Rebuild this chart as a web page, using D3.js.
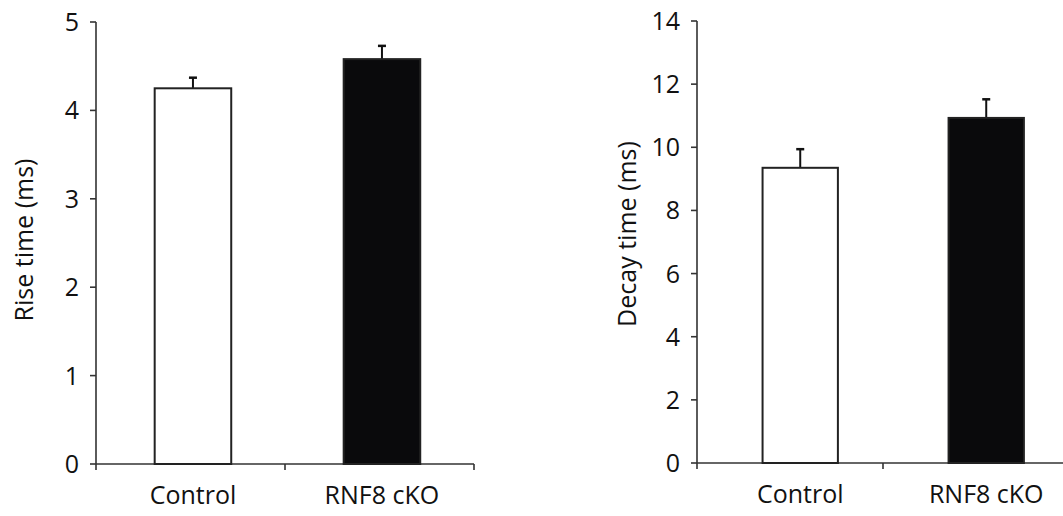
<!DOCTYPE html>
<html lang="en">
<head>
    <meta charset="UTF-8" />
    <title>Rise and decay time</title>
    <style>
        body { margin: 0; background: #fff; }
        svg text { font-family: "Open Sans", "Noto Sans", sans-serif; fill: #111; }
    </style>
</head>
<body>
    <svg id="chart" width="1063" height="516"></svg>
    <script src="https://d3js.org/d3.v7.min.js"></script>
    <script>
        // --- Data ---
        const groups = ["Control", "RNF8 cKO"];
        const barFill = ["#ffffff", "#0a0a0c"];
        const riseMean = [4.25, 4.58];
        const riseErr = [0.12, 0.15];
        const decayMean = [9.35, 10.93];
        const decayErr = [0.59, 0.59];
        const riseTicks = [0, 1, 2, 3, 4, 5];
        const decayTicks = [0, 2, 4, 6, 8, 10, 12, 14];

        const svg = d3.select("#chart");
        const axisColor = "#333";
        const fontSize = 25;

        function panel(opts) {
            const g = svg.append("g");
            const y = d3.scaleLinear().domain([0, opts.max]).range([opts.y0, opts.y1]);
            const x = d3.scaleBand().domain(groups).range([opts.x0, opts.x1]).padding(0);
            const bw = x.bandwidth() * 0.405;
            const cx = d => x(d) + x.bandwidth() * opts.shift;

            // y axis
            g.append("line")
                .attr("x1", opts.x0).attr("x2", opts.x0)
                .attr("y1", y(0)).attr("y2", y(opts.max))
                .attr("stroke", axisColor).attr("stroke-width", 1.6);
            g.selectAll(".yt").data(opts.ticks).enter().append("line")
                .attr("x1", opts.x0 - 6).attr("x2", opts.x0)
                .attr("y1", d => y(d)).attr("y2", d => y(d))
                .attr("stroke", axisColor).attr("stroke-width", 1.6);
            g.selectAll(".yl").data(opts.ticks).enter().append("text")
                .attr("x", opts.x0 - 17).attr("y", d => y(d))
                .attr("dy", "0.36em")
                .attr("text-anchor", "end")
                .attr("font-size", fontSize)
                .text(d => d);

            // x axis with ticks between categories
            g.append("line")
                .attr("x1", opts.x0).attr("x2", opts.x1)
                .attr("y1", y(0)).attr("y2", y(0))
                .attr("stroke", axisColor).attr("stroke-width", 1.6);
            const edges = [opts.x0].concat(groups.map(d => x(d) + x.bandwidth()));
            g.selectAll(".xt").data(edges).enter().append("line")
                .attr("x1", d => d).attr("x2", d => d)
                .attr("y1", y(0)).attr("y2", y(0) + 6)
                .attr("stroke", axisColor).attr("stroke-width", 1.6);
            g.selectAll(".xl").data(groups).enter().append("text")
                .attr("x", d => cx(d)).attr("y", y(0) + 40)
                .attr("text-anchor", "middle")
                .attr("font-size", fontSize)
                .text(d => d);

            // error bars
            g.selectAll(".eb").data(groups).enter().append("line")
                .attr("x1", d => cx(d)).attr("x2", d => cx(d))
                .attr("y1", (d, i) => y(opts.mean[i]))
                .attr("y2", (d, i) => y(opts.mean[i] + opts.err[i]))
                .attr("stroke", "#111").attr("stroke-width", 2);
            g.selectAll(".ec").data(groups).enter().append("line")
                .attr("x1", d => cx(d) - 4).attr("x2", d => cx(d) + 4)
                .attr("y1", (d, i) => y(opts.mean[i] + opts.err[i]))
                .attr("y2", (d, i) => y(opts.mean[i] + opts.err[i]))
                .attr("stroke", "#111").attr("stroke-width", 2.5);

            // bars
            g.selectAll(".bar").data(groups).enter().append("rect")
                .attr("x", d => cx(d) - bw / 2)
                .attr("width", bw)
                .attr("y", (d, i) => y(opts.mean[i]))
                .attr("height", (d, i) => y(0) - y(opts.mean[i]))
                .attr("fill", (d, i) => barFill[i])
                .attr("stroke", "#222").attr("stroke-width", 2);

            // y title
            g.append("text")
                .attr("transform", `translate(${opts.titleX},${opts.titleY}) rotate(-90)`)
                .attr("text-anchor", "middle")
                .attr("font-size", fontSize)
                .text(opts.title);
        }

        panel({ x0: 96, x1: 474, y0: 464, y1: 22, max: 5, ticks: riseTicks,
                mean: riseMean, err: riseErr, shift: 0.513,
                title: "Rise time (ms)", titleX: 33, titleY: 240 });
        panel({ x0: 697, x1: 1069, y0: 463, y1: 21, max: 14, ticks: decayTicks,
                mean: decayMean, err: decayErr, shift: 0.555,
                title: "Decay time (ms)", titleX: 636, titleY: 234 });
    </script>
</body>
</html>
